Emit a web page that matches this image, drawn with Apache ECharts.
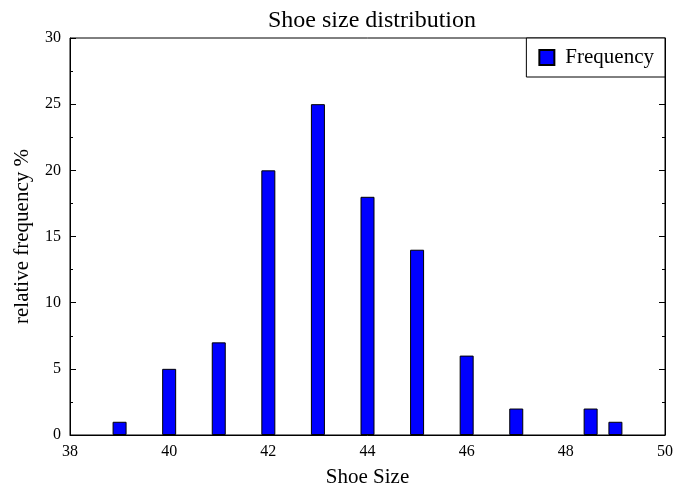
<!DOCTYPE html>
<html><head><meta charset="utf-8">
<script src="https://cdn.jsdelivr.net/npm/echarts@6/dist/echarts.min.js"></script>
<style>html,body{margin:0;padding:0;background:#fff}#c{width:673px;height:486px}</style>
</head><body><div id="c"></div>
<script>
const shoeSizes = [39, 40, 41, 42, 43, 44, 45, 46, 47, 48.5, 49];
const frequency = [1, 5, 7, 20, 25, 18, 14, 6, 2, 2, 1];
const xTicks = [38, 40, 42, 44, 46, 48, 50];
const yTicks = [0, 5, 10, 15, 20, 25, 30];

const F = '"Liberation Serif", "DejaVu Serif", serif';
const chart = echarts.init(document.getElementById('c'));
const yCommon = {
  type: 'value', min: yTicks[0], max: yTicks[yTicks.length-1], interval: 5,
  axisLine: {show: true, lineStyle: {color: '#000', width: 1}},
  axisTick: {show: true, inside: true, length: 6, lineStyle: {color: '#000'}},
  minorTick: {show: true, splitNumber: 2, length: 3, lineStyle: {color: '#000'}},
  splitLine: {show: false}
};
chart.setOption({
  animation: false,
  title: {text: 'Shoe size distribution', left: 367, textAlign: 'center', top: 4,
    textStyle: {fontFamily: F, fontSize: 24, fontWeight: 'normal', color: '#000'}},
  grid: {left: 70, right: 8, top: 38, bottom: 51, show: true, borderColor: '#000', borderWidth: 1,
    outerBoundsMode: 'none', containLabel: false},
  legend: {
    data: ['Frequency'], right: 8, top: 38, orient: 'vertical',
    backgroundColor: '#fff', borderColor: '#000', borderWidth: 1, borderRadius: 0,
    padding: [9, 11, 9, 12], itemWidth: 15, itemHeight: 15, itemGap: 8,
    icon: 'rect',
    textStyle: {fontFamily: F, fontSize: 21, color: '#000', padding: [0, 0, 0, 6]}
  },
  xAxis: {
    type: 'value', min: xTicks[0], max: xTicks[xTicks.length-1], interval: 2,
    name: 'Shoe Size', nameLocation: 'middle', nameGap: 32,
    nameTextStyle: {fontFamily: F, fontSize: 21, color: '#000'},
    axisLine: {show: true, onZero: false, lineStyle: {color: '#000'}},
    axisTick: {show: false},
    axisLabel: {fontFamily: F, fontSize: 16, color: '#000', margin: 9},
    splitLine: {show: false}
  },
  yAxis: [
    Object.assign({}, yCommon, {
      position: 'left',
      name: 'relative frequency %', nameLocation: 'middle', nameGap: 37,
      nameTextStyle: {fontFamily: F, fontSize: 21, color: '#000'},
      axisLabel: {fontFamily: F, fontSize: 16, color: '#000', margin: 9}
    }),
    Object.assign({}, yCommon, {position: 'right', axisLabel: {show: false}})
  ],
  series: [{
    name: 'Frequency', type: 'bar', barWidth: 14,
    data: shoeSizes.map((s, i) => [s, frequency[i]]),
    itemStyle: {color: '#0000ff', borderColor: '#000', borderWidth: 1}
  }]
});
</script></body></html>
